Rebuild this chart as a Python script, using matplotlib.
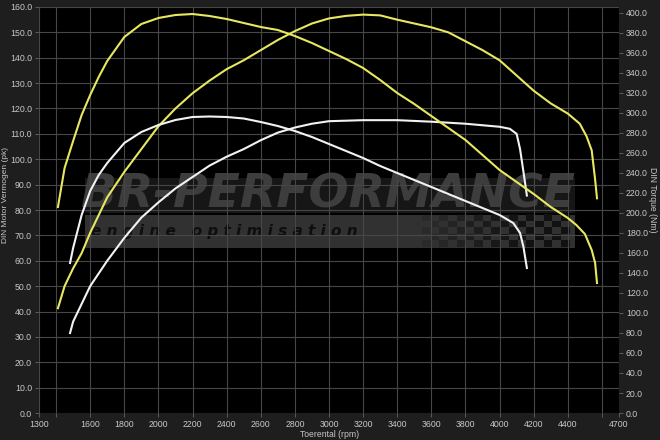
import matplotlib.pyplot as plt
from matplotlib.patches import Rectangle

# tuned power (pk) - yellow
rpm_pk_tuned = [1411, 1450, 1500, 1550, 1600, 1700, 1800, 1900, 2000, 2100, 2200, 2300, 2400,
                2500, 2600, 2700, 2800, 2900, 3000, 3100, 3200, 3300, 3400, 3500, 3600, 3700,
                3800, 3900, 4000, 4100, 4200, 4300, 4400, 4470, 4510, 4540, 4560, 4571]
pk_tuned = [41.3, 50, 57, 63, 71, 85, 95, 104, 113, 120, 126, 131, 135.5,
            139, 143, 147, 150.5, 153.5, 155.5, 156.5, 157, 156.7, 155, 153.5, 152, 150,
            146.5, 143, 139, 133, 127, 122, 118, 114, 109, 103.5, 92, 84.6]

# tuned torque (Nm) - yellow
rpm_nm_tuned = [1411, 1450, 1500, 1550, 1600, 1650, 1700, 1800, 1900, 2000, 2100, 2200, 2300,
                2400, 2500, 2600, 2700, 2800, 2900, 3000, 3100, 3200, 3300, 3400, 3500, 3600,
                3700, 3800, 3900, 4000, 4100, 4200, 4300, 4400, 4450, 4500, 4540, 4560, 4571]
nm_tuned = [206, 245, 272, 298, 318, 336, 352, 376, 389, 395, 398, 399, 397,
            394, 390, 386, 383, 377, 370, 362, 354, 345, 333, 320, 309, 297,
            285, 273, 258, 243, 231, 219, 206, 195, 188, 179, 163, 150, 130]

# stock power (pk) - white
rpm_pk_stock = [1482, 1500, 1550, 1600, 1700, 1800, 1900, 2000, 2100, 2200, 2300, 2400, 2500,
                2600, 2700, 2800, 2900, 3000, 3200, 3400, 3600, 3800, 4000, 4060, 4100, 4120,
                4140, 4160]
pk_stock = [31.5, 36, 43, 50, 60, 69, 77, 83, 88.5, 93, 97.5, 101, 104,
            107.5, 110.5, 112.5, 114, 115, 115.4, 115.4, 114.8, 114, 112.8, 112, 110, 104,
            95, 85.7]

# stock torque (Nm) - white
rpm_nm_stock = [1482, 1500, 1550, 1600, 1650, 1700, 1800, 1900, 2000, 2100, 2200, 2300, 2400,
                2500, 2600, 2700, 2800, 2900, 3000, 3100, 3200, 3300, 3400, 3500, 3600, 3700,
                3800, 3900, 4000, 4080, 4120, 4140, 4160]
nm_stock = [150, 165, 198, 222, 238, 250, 270, 281, 288, 293, 296, 296.5, 296,
            294.5, 291, 287, 282, 276, 269, 262, 255, 247, 240, 233, 226, 219,
            212, 205, 198, 190, 180, 166, 145]

x_ticks = [1300, 1400, 1600, 1800, 2000, 2200, 2400, 2600, 2800, 3000, 3200, 3400,
           3600, 3800, 4000, 4200, 4400, 4600, 4700]
x_labels = ['1300', '', '1600', '1800', '2000', '2200', '2400', '2600', '2800', '3000', '3200',
            '3400', '3600', '3800', '4000', '4200', '4400', '', '4700']

plt.rcParams['font.family'] = ['Liberation Sans', 'DejaVu Sans']

yellow = '#e8e860'
white = '#f2f2f2'
txt = '#c8c8c8'

fig = plt.figure(figsize=(6.6, 4.4), dpi=100, facecolor='#1e1e1e')
ax = fig.add_axes([39 / 660, 27 / 440, 580 / 660, 406 / 440])
ax.set_facecolor('black')
ax2 = ax.twinx()

ax.set_xlim(1300, 4700)
ax.set_ylim(0, 160)
ax2.set_ylim(0, 406)

ax.set_xticks(x_ticks)
ax.set_xticklabels(x_labels)
ax.set_yticks(range(0, 161, 10))
ax.set_yticklabels([f'{v:.1f}' for v in range(0, 161, 10)])
ax2.set_yticks(range(0, 401, 20))
ax2.set_yticklabels([f'{v:.1f}' for v in range(0, 401, 20)])

ax.set_axisbelow(True)
ax.grid(True, color='#474747', linewidth=0.8)

for a in (ax, ax2):
    for s in a.spines.values():
        s.set_visible(False)
    a.tick_params(colors=txt, labelsize=6.3, length=3, width=0.6, pad=2)
ax.tick_params(axis='both', color='#666666')
ax2.tick_params(axis='y', color='#666666')

# axis titles placed as in the reference
fig.text(330 / 660, 6 / 440, 'Toerental (rpm)', color=txt, fontsize=6.2,
         ha='center', va='center')
fig.text(5.5 / 660, (440 - 195) / 440, 'DIN Motor Vermogen (pk)', color=txt, fontsize=6.0,
         rotation=90, ha='center', va='center')
fig.text(652 / 660, (440 - 200) / 440, 'DIN Torque (Nm)', color=txt, fontsize=6.2,
         rotation=270, ha='center', va='center')

# watermark logo
ax.add_patch(Rectangle((0.079, 0.406), 0.845, 0.082, transform=ax.transAxes,
                       facecolor='#3a3a3a', edgecolor='none', alpha=0.85, zorder=0.3))
ax.add_patch(Rectangle((0.079, 0.493), 0.845, 0.085, transform=ax.transAxes,
                       facecolor='#1a1a1a', edgecolor='none', alpha=0.85, zorder=0.3))
ax.text(0.072, 0.537, 'BR-PERFORMANCE', transform=ax.transAxes, fontsize=34,
        fontweight='heavy', fontstyle='italic', color='#3d3d3d', va='center', ha='left',
        zorder=0.35, family='DejaVu Sans')
ax.text(0.09, 0.447, 'e n g i n e   o p t i m i s a t i o n', transform=ax.transAxes,
        fontsize=11, fontweight='bold', fontstyle='italic', color='#0e0e0e',
        va='center', ha='left', zorder=0.35, family='DejaVu Sans')
# checkered flag
for i in range(17):
    for j in range(5):
        if (i + j) % 2 == 0:
            ax.add_patch(Rectangle((0.66 + i * 0.015, 0.41 + j * 0.016), 0.015, 0.016,
                                   transform=ax.transAxes, facecolor='#111111',
                                   edgecolor='none', alpha=min(1.0, 0.2 + i * 0.07),
                                   zorder=0.35))

ax.plot(rpm_pk_tuned, pk_tuned, color=yellow, linewidth=1.5, zorder=3)
ax.plot(rpm_pk_stock, pk_stock, color=white, linewidth=1.5, zorder=3)
ax2.plot(rpm_nm_tuned, nm_tuned, color=yellow, linewidth=1.5)
ax2.plot(rpm_nm_stock, nm_stock, color=white, linewidth=1.5)

fig.savefig('out.png', dpi=100, facecolor=fig.get_facecolor())
